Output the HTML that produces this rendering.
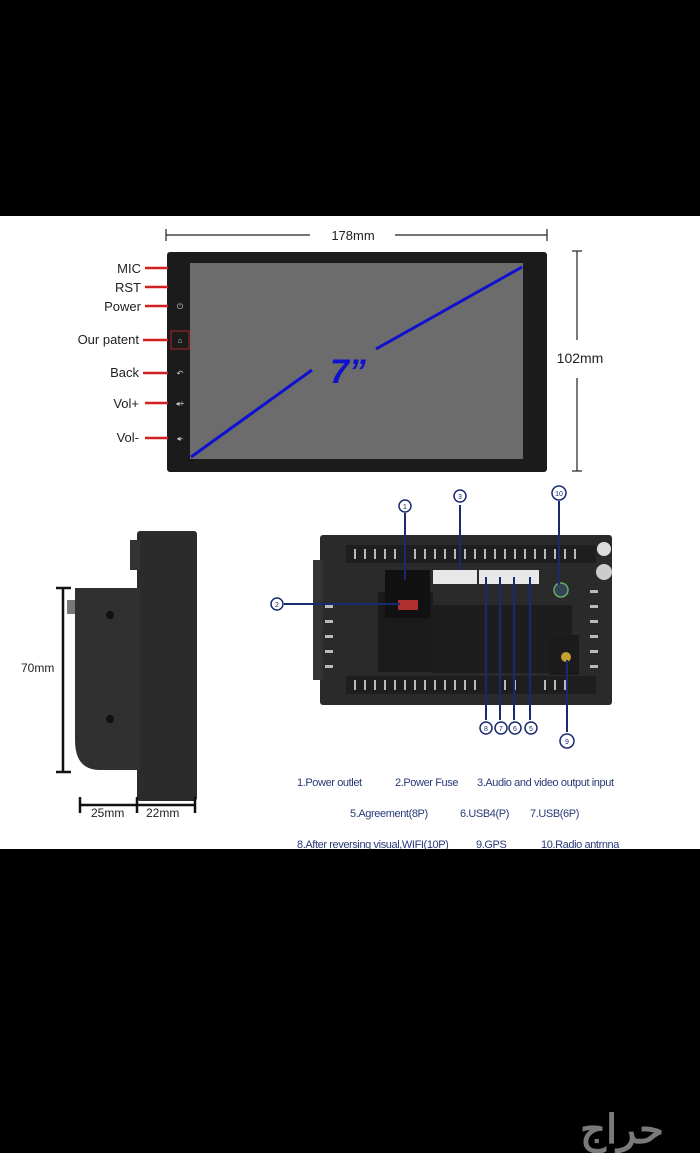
<!DOCTYPE html>
<html><head><meta charset="utf-8"><style>
html,body{margin:0;padding:0;background:#000;}
svg{display:block}
text{font-family:"Liberation Sans",sans-serif}
</style></head><body>
<svg width="700" height="1153" viewBox="0 0 700 1153" xmlns="http://www.w3.org/2000/svg">
<rect width="700" height="1153" fill="#000"/>
<rect x="0" y="216" width="700" height="633" fill="#fff"/>
<g stroke="#222" stroke-width="1.2">
<line x1="166" y1="235" x2="310" y2="235"/><line x1="395" y1="235" x2="547" y2="235"/>
<line x1="166" y1="229" x2="166" y2="241"/><line x1="547" y1="229" x2="547" y2="241"/>
</g>
<text x="353" y="240" font-size="13" text-anchor="middle" fill="#222">178mm</text>
<rect x="167" y="252" width="380" height="220" rx="3" fill="#1b1b1b"/>
<rect x="190" y="263" width="333" height="196" fill="#6c6c6c"/>
<line x1="191" y1="457" x2="312" y2="370" stroke="#1010d0" stroke-width="3"/>
<line x1="376" y1="349" x2="522" y2="267" stroke="#1010d0" stroke-width="3"/>
<text x="330" y="383" font-size="34" font-weight="bold" font-style="italic" fill="#1010d0">7”</text>
<g stroke="#222" stroke-width="1.2">
<line x1="577" y1="251" x2="577" y2="340"/><line x1="577" y1="378" x2="577" y2="471"/>
<line x1="572" y1="251" x2="582" y2="251"/><line x1="572" y1="471" x2="582" y2="471"/>
</g>
<text x="580" y="363" font-size="14" text-anchor="middle" fill="#222">102mm</text>
<g font-size="13" fill="#222" text-anchor="end">
<text x="141" y="273">MIC</text><text x="141" y="292">RST</text><text x="141" y="311">Power</text>
<text x="139" y="344">Our patent</text><text x="139" y="377">Back</text><text x="139" y="408">Vol+</text><text x="139" y="442">Vol-</text>
</g>
<g stroke="#d02020" stroke-width="2.5">
<line x1="145" y1="268" x2="168" y2="268"/><line x1="145" y1="287" x2="168" y2="287"/><line x1="145" y1="306" x2="168" y2="306"/>
<line x1="143" y1="340" x2="168" y2="340"/><line x1="143" y1="373" x2="168" y2="373"/><line x1="145" y1="403" x2="168" y2="403"/><line x1="145" y1="438" x2="168" y2="438"/>
</g>
<rect x="171" y="331" width="18" height="18" fill="none" stroke="#b02020" stroke-width="1"/>
<g fill="#ccc" font-size="8" text-anchor="middle"><text x="180" y="309">⏻</text><text x="180" y="343">⌂</text><text x="180" y="376">↶</text><text x="180" y="406">◂+</text><text x="180" y="441">◂-</text></g>
<rect x="137" y="531" width="60" height="270" rx="3" fill="#2b2b2b"/>
<rect x="130" y="540" width="10" height="30" fill="#333"/>
<path d="M75 588 H140 V770 H100 Q75 770 75 740 Z" fill="#303030"/>
<rect x="67" y="600" width="8" height="14" fill="#777"/>
<circle cx="110" cy="615" r="4" fill="#111"/><circle cx="110" cy="719" r="4" fill="#111"/>
<g stroke="#111" stroke-width="2.5">
<line x1="63" y1="588" x2="63" y2="772"/><line x1="56" y1="588" x2="71" y2="588"/><line x1="56" y1="772" x2="71" y2="772"/>
<line x1="80" y1="805" x2="195" y2="805"/><line x1="80" y1="797" x2="80" y2="813"/><line x1="137" y1="797" x2="137" y2="813"/><line x1="195" y1="797" x2="195" y2="813"/>
</g>
<text x="21" y="672" font-size="12" fill="#222">70mm</text>
<text x="91" y="817" font-size="12" fill="#222">25mm</text><text x="146" y="817" font-size="12" fill="#222">22mm</text>
<rect x="320" y="535" width="292" height="170" rx="3" fill="#2a2a2a"/>
<rect x="313" y="560" width="10" height="120" fill="#333"/>
<rect x="346" y="545" width="250" height="18" fill="#1e1e1e"/>
<rect x="346" y="676" width="250" height="18" fill="#1e1e1e"/>
<g fill="#bbb">
<rect x="354" y="549" width="2" height="10"/><rect x="364" y="549" width="2" height="10"/><rect x="374" y="549" width="2" height="10"/><rect x="384" y="549" width="2" height="10"/><rect x="394" y="549" width="2" height="10"/><rect x="404" y="549" width="2" height="10"/><rect x="414" y="549" width="2" height="10"/><rect x="424" y="549" width="2" height="10"/><rect x="434" y="549" width="2" height="10"/><rect x="444" y="549" width="2" height="10"/><rect x="454" y="549" width="2" height="10"/><rect x="464" y="549" width="2" height="10"/><rect x="474" y="549" width="2" height="10"/><rect x="484" y="549" width="2" height="10"/><rect x="494" y="549" width="2" height="10"/><rect x="504" y="549" width="2" height="10"/><rect x="514" y="549" width="2" height="10"/><rect x="524" y="549" width="2" height="10"/><rect x="534" y="549" width="2" height="10"/><rect x="544" y="549" width="2" height="10"/><rect x="554" y="549" width="2" height="10"/><rect x="564" y="549" width="2" height="10"/><rect x="574" y="549" width="2" height="10"/>
<rect x="354" y="680" width="2" height="10"/><rect x="364" y="680" width="2" height="10"/><rect x="374" y="680" width="2" height="10"/><rect x="384" y="680" width="2" height="10"/><rect x="394" y="680" width="2" height="10"/><rect x="404" y="680" width="2" height="10"/><rect x="414" y="680" width="2" height="10"/><rect x="424" y="680" width="2" height="10"/><rect x="434" y="680" width="2" height="10"/><rect x="444" y="680" width="2" height="10"/><rect x="454" y="680" width="2" height="10"/><rect x="464" y="680" width="2" height="10"/><rect x="474" y="680" width="2" height="10"/><rect x="504" y="680" width="2" height="10"/><rect x="514" y="680" width="2" height="10"/><rect x="544" y="680" width="2" height="10"/><rect x="554" y="680" width="2" height="10"/><rect x="564" y="680" width="2" height="10"/>
<rect x="325" y="605" width="8" height="3"/><rect x="325" y="620" width="8" height="3"/><rect x="325" y="635" width="8" height="3"/><rect x="325" y="650" width="8" height="3"/><rect x="325" y="665" width="8" height="3"/>
<rect x="590" y="590" width="8" height="3"/><rect x="590" y="605" width="8" height="3"/><rect x="590" y="620" width="8" height="3"/><rect x="590" y="635" width="8" height="3"/><rect x="590" y="650" width="8" height="3"/><rect x="590" y="665" width="8" height="3"/>
</g>
<rect x="378" y="592" width="55" height="80" fill="#1a1a1a"/>
<rect x="385" y="570" width="45" height="48" fill="#111"/>
<rect x="432" y="605" width="140" height="68" fill="#1d1d1d"/>
<rect x="433" y="570" width="44" height="14" fill="#e8e8e8"/>
<rect x="479" y="570" width="60" height="14" fill="#e8e8e8"/>
<rect x="398" y="600" width="20" height="10" fill="#b03030"/>
<circle cx="561" cy="590" r="7" fill="#345" stroke="#6a6" stroke-width="1.5"/>
<rect x="549" y="635" width="30" height="40" fill="#1b1b1b"/>
<circle cx="566" cy="657" r="5" fill="#c8a030"/>
<circle cx="604" cy="549" r="7" fill="#ddd"/><circle cx="604" cy="572" r="8" fill="#ccc"/>
<g stroke="#1a2a70" stroke-width="2" fill="none">
<line x1="405" y1="513" x2="405" y2="580"/><line x1="460" y1="505" x2="460" y2="570"/><line x1="559" y1="501" x2="559" y2="585"/>
<line x1="284" y1="604" x2="400" y2="604"/>
<line x1="486" y1="577" x2="486" y2="720"/><line x1="500" y1="577" x2="500" y2="720"/><line x1="514" y1="577" x2="514" y2="720"/><line x1="530" y1="577" x2="530" y2="720"/>
<line x1="567" y1="660" x2="567" y2="732"/>
</g>
<g fill="#fff" stroke="#1a2a70" stroke-width="1.5">
<circle cx="405" cy="506" r="6"/><circle cx="460" cy="496" r="6"/><circle cx="559" cy="493" r="7"/><circle cx="277" cy="604" r="6"/>
<circle cx="486" cy="728" r="6"/><circle cx="501" cy="728" r="6"/><circle cx="515" cy="728" r="6"/><circle cx="531" cy="728" r="6"/><circle cx="567" cy="741" r="7"/>
</g>
<g font-size="7" fill="#1a2a70" text-anchor="middle">
<text x="405" y="509">1</text><text x="460" y="499">3</text><text x="559" y="496">10</text><text x="277" y="607">2</text>
<text x="486" y="731">8</text><text x="501" y="731">7</text><text x="515" y="731">6</text><text x="531" y="731">5</text><text x="567" y="744">9</text>
</g>
<g font-size="11" fill="#2a3a78" letter-spacing="-0.4">
<text x="297" y="786">1.Power outlet</text><text x="395" y="786">2.Power Fuse</text><text x="477" y="786">3.Audio and video output input</text>
<text x="350" y="817">5.Agreement(8P)</text><text x="460" y="817">6.USB4(P)</text><text x="530" y="817">7.USB(6P)</text>
<text x="297" y="848">8.After reversing visual,WIFI(10P)</text><text x="476" y="848">9.GPS</text><text x="541" y="848">10.Radio antrnna</text>
</g>
<rect x="0" y="849" width="700" height="304" fill="#000"/>
<text x="622" y="1143" font-size="40" font-weight="bold" fill="#7a7a7a" text-anchor="middle" font-family="'DejaVu Sans',sans-serif">حراج</text>
</svg>
</body></html>
